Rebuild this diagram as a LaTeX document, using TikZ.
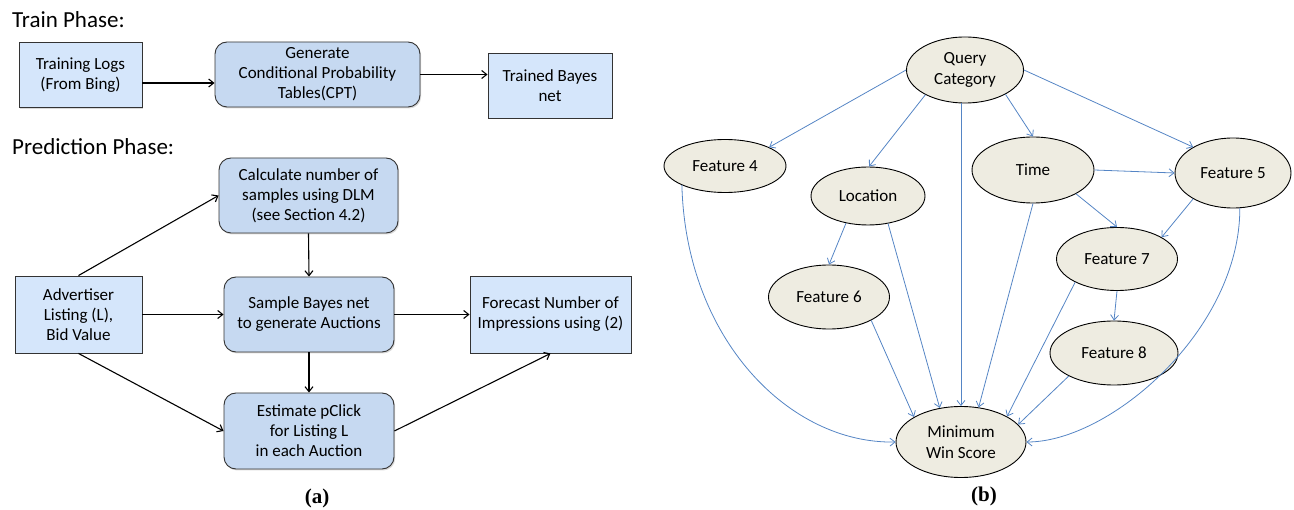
\documentclass[tikz,border=0pt]{standalone}
\usepackage{fontspec}
\setmainfont{Carlito}
\newfontfamily\capfont{Liberation Serif}
\usetikzlibrary{arrows.meta,shapes.geometric,shadows}

\definecolor{boxblue}{HTML}{D5E6FB}
\definecolor{stepblue}{HTML}{C6D9F1}
\definecolor{nodetan}{HTML}{EEECE1}
\definecolor{edgeblue}{HTML}{5585C5}

\begin{document}
\begin{tikzpicture}[x=1pt, y=-1pt,
  font=\fontsize{17}{20}\selectfont,
  plainbox/.style={draw=black!80, fill=boxblue, line width=0.9pt,
    align=center, inner sep=0pt,
    drop shadow={shadow xshift=1.2pt, shadow yshift=-1.5pt, opacity=0.3}},
  roundbox/.style={plainbox, fill=stepblue, rounded corners=12pt},
  varnode/.style={ellipse, draw=black, fill=nodetan, line width=0.9pt,
    align=center, inner sep=0pt, font=\fontsize{17}{21}\selectfont},
  flow/.style={-{Straight Barb[length=5pt,width=8pt]}, line width=1.1pt},
  dep/.style={-{Straight Barb[length=5pt,width=8pt]}, edgeblue, line width=0.8pt},
  phase/.style={anchor=west, inner sep=0pt, font=\fontsize{23}{27}\selectfont},
  caption/.style={font=\fontsize{21}{24}\selectfont\capfont\bfseries}]
  \useasboundingbox (0,0) rectangle (1294,510);

  % training pipeline
  \node[phase] (trainlbl) at (12,20) {Train Phase:};
  \node[plainbox, minimum width=123, minimum height=65] (logs) at (80.5,75)
    {Training Logs\\(From Bing)};
  \node[roundbox, minimum width=205, minimum height=65] (cpt) at (317.5,74.5)
    {Generate\\Conditional Probability\\Tables(CPT)};
  \node[plainbox, minimum width=124, minimum height=65] (bayes) at (550,85.5)
    {Trained Bayes\\net};
  \draw[flow] (logs.east |- 0,83) -- (cpt.west |- 0,83);
  \draw[flow] (cpt.east) -- (bayes.west |- cpt.east);

  % prediction pipeline
  \node[phase] (predlbl) at (12,147) {Prediction Phase:};
  \node[roundbox, minimum width=179, minimum height=75] (calc) at (308.5,195.5)
    {Calculate number of\\samples using DLM\\(see Section 4.2)};
  \node[plainbox, minimum width=127, minimum height=77] (adv) at (78.5,314.5)
    {Advertiser\\Listing (L),\\Bid Value};
  \node[roundbox, minimum width=170, minimum height=75] (samp) at (309,314.5)
    {Sample Bayes net\\to generate Auctions};
  \node[plainbox, minimum width=161, minimum height=77] (fcst) at (550.5,314.5)
    {Forecast Number of\\Impressions using (2)};
  \node[roundbox, minimum width=170, minimum height=76] (est) at (309,431)
    {Estimate pClick\\for Listing L\\in each Auction};
  \draw[flow] (adv.north) -- (calc.west);
  \draw[flow] (calc.south) -- (samp.north);
  \draw[flow] (adv.east) -- (samp.west);
  \draw[flow] (samp.east) -- (fcst.west);
  \draw[flow] (samp.south) -- (est.north);
  \draw[flow] (adv.south) -- (est.west);
  \draw[flow] (est.east) -- (fcst.south);
  \node[caption] (capa) at (317,498) {(a)};

  % bayes net
  \node[varnode, minimum width=117, minimum height=66] (qc) at (965,70) {Query\\Category};
  \node[varnode, minimum width=122, minimum height=53] (f4) at (725,166) {Feature 4};
  \node[varnode, minimum width=114, minimum height=58] (loc) at (868,196) {Location};
  \node[varnode, minimum width=122, minimum height=66] (time) at (1033,170) {Time};
  \node[varnode, minimum width=116, minimum height=70] (f5) at (1233,173) {Feature 5};
  \node[varnode, minimum width=121, minimum height=63] (f7) at (1117,259) {Feature 7};
  \node[varnode, minimum width=121, minimum height=64] (f6) at (829,297) {Feature 6};
  \node[varnode, minimum width=128, minimum height=64] (f8) at (1114,353) {Feature 8};
  \node[varnode, minimum width=130, minimum height=71] (mws) at (961,442) {Minimum\\Win Score};

  \draw[dep] (qc.180) -- (f4.23);
  \draw[dep] (qc.212) -- (loc.88);
  \draw[dep] (qc.south -| mws.north) -- (mws.north);
  \draw[dep] (qc.329) -- (time.90);
  \draw[dep] (qc.0) -- (f5.147);
  \draw[dep] (time.0) -- (f5.180);
  \draw[dep] (time.331) -- (f7.90);
  \draw[dep] (f5.213) -- (f7.26);
  \draw[dep] (time.270) -- (mws.63);
  \draw[dep] (loc.231) -- (f6.90);
  \draw[dep] (loc.306) -- (mws.122);
  \draw[dep] (f6.331) -- (mws.152);
  \draw[dep] (f7.209) -- (mws.29);
  \draw[dep] (f7.270) -- (f8.90);
  \draw[dep] (f8.207) -- (mws.17);
  % long arcs round the sides
  \draw[dep] (f4.204) .. controls (686,340) and (790,444) .. (mws.west);
  \draw[dep] (f5.281) .. controls (1240,330) and (1110,442) .. (mws.east);
  \node[caption] (capb) at (984,496) {(b)};
\end{tikzpicture}
\end{document}
